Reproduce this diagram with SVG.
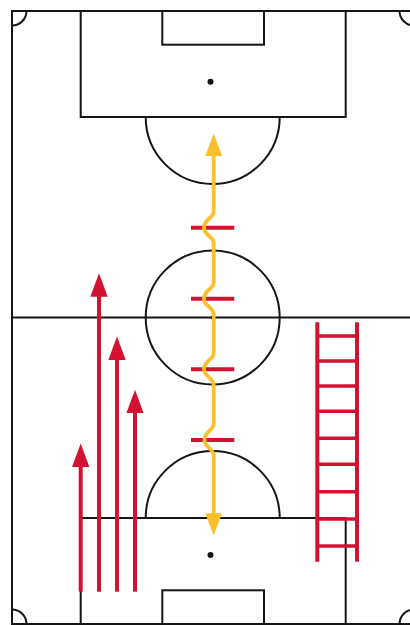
<svg xmlns="http://www.w3.org/2000/svg" width="410" height="625" viewBox="0 0 410 625">
  <style>
    .line { fill: none; stroke: #151515; stroke-width: 2; }
    .spot { fill: #151515; }
    .run { fill: none; stroke: #D31130; stroke-width: 4; }
    .bar { stroke: #D31130; stroke-width: 4; }
    .dribble { fill: none; stroke: #FCC02D; stroke-width: 3.8; }
    .rail { stroke: #D31130; stroke-width: 4; }
    .rung { stroke: #D31130; stroke-width: 3.5; }
  </style>
  <defs>
    <marker id="head-red" markerUnits="userSpaceOnUse" markerWidth="25" markerHeight="18" viewBox="0 -9 25 18" refX="1" refY="0" orient="auto">
      <path d="M0,-8.7 L23.5,0 L0,8.7 Z" fill="#D31130"/>
    </marker>
    <marker id="head-yellow" markerUnits="userSpaceOnUse" markerWidth="25" markerHeight="18" viewBox="0 -9 25 18" refX="1" refY="0" orient="auto-start-reverse">
      <path d="M0,-8.4 L22.5,0 L0,8.4 Z" fill="#FCC02D"/>
    </marker>
  </defs>

  <rect width="410" height="625" fill="#ffffff"/>

  <!-- pitch markings -->
  <g id="pitch">
    <rect class="line" x="12" y="11" width="402" height="613"/>
    <line class="line" x1="12" y1="317.5" x2="414" y2="317.5"/>
    <circle class="line" cx="212.7" cy="317.5" r="67"/>
    <circle class="spot" cx="212.5" cy="317.5" r="2"/>
    <!-- top end -->
    <rect class="line" x="80.7" y="11" width="265" height="106"/>
    <rect class="line" x="162.3" y="11" width="101.7" height="33.7"/>
    <circle class="spot" cx="210.5" cy="81.7" r="3"/>
    <path class="line" d="M145.7,117 A67,67 0 0 0 279.7,117"/>
    <!-- bottom end -->
    <rect class="line" x="80.7" y="518" width="265" height="106"/>
    <rect class="line" x="162.3" y="590.3" width="101.7" height="33.7"/>
    <circle class="spot" cx="210.5" cy="555" r="3"/>
    <path class="line" d="M145.7,518 A67,67 0 0 1 279.7,518"/>
    <!-- corner arcs -->
    <path class="line" d="M12,25.5 A14.5,14.5 0 0 0 26.5,11"/>
    <path class="line" d="M399.5,11 A14.5,14.5 0 0 0 414,25.5"/>
    <path class="line" d="M12,609.5 A14.5,14.5 0 0 1 26.5,624"/>
    <path class="line" d="M399.5,624 A14.5,14.5 0 0 1 414,609.5"/>
  </g>

  <!-- defenders marked as short bars -->
  <g id="defenders">
    <line class="bar" x1="191" y1="227.7" x2="234.3" y2="227.7"/>
    <line class="bar" x1="191" y1="298.7" x2="234.3" y2="298.7"/>
    <line class="bar" x1="191" y1="369.3" x2="234.3" y2="369.3"/>
    <line class="bar" x1="191" y1="440" x2="234.3" y2="440"/>
  </g>

  <!-- connectors -->
  <g id="connectors">
    <path id="dribble" class="dribble" marker-start="url(#head-yellow)" marker-end="url(#head-yellow)"
      d="M213.7,155 V211.7 C213.7,218 204,219 204,227.7 C204,235.5 213.7,236 213.7,243.5
         V282.7 C213.7,289 204,290 204,298.7 C204,306.5 213.7,307 213.7,314.5
         V353.3 C213.7,359.6 204,360.6 204,369.3 C204,377.1 213.7,377.6 213.7,385.1
         V424 C213.7,430.3 204.5,431.3 204.5,440 C204.5,447.8 213.7,448.3 213.7,455.8
         V514.3"/>
    <line id="run-1" class="run" x1="99" y1="591.7" x2="99" y2="295.7" marker-end="url(#head-red)"/>
    <line id="run-2" class="run" x1="117" y1="591.7" x2="117" y2="359" marker-end="url(#head-red)"/>
    <line id="run-3" class="run" x1="135" y1="591.7" x2="135" y2="412.3" marker-end="url(#head-red)"/>
    <line id="run-4" class="run" x1="80.7" y1="591.7" x2="80.7" y2="466" marker-end="url(#head-red)"/>
  </g>

  <!-- agility ladder -->
  <g id="ladder">
    <line class="rail" x1="317.3" y1="322.3" x2="317.3" y2="561.7"/>
    <line class="rail" x1="357" y1="322.3" x2="357" y2="561.7"/>
    <line class="rung" x1="317.3" y1="336" x2="357" y2="336"/>
    <line class="rung" x1="317.3" y1="361" x2="357" y2="361"/>
    <line class="rung" x1="317.3" y1="386" x2="357" y2="386"/>
    <line class="rung" x1="317.3" y1="411.3" x2="357" y2="411.3"/>
    <line class="rung" x1="317.3" y1="438.3" x2="357" y2="438.3"/>
    <line class="rung" x1="317.3" y1="464.3" x2="357" y2="464.3"/>
    <line class="rung" x1="317.3" y1="491.7" x2="357" y2="491.7"/>
    <line class="rung" x1="317.3" y1="519" x2="357" y2="519"/>
    <line class="rung" x1="317.3" y1="546" x2="357" y2="546"/>
  </g>
</svg>
